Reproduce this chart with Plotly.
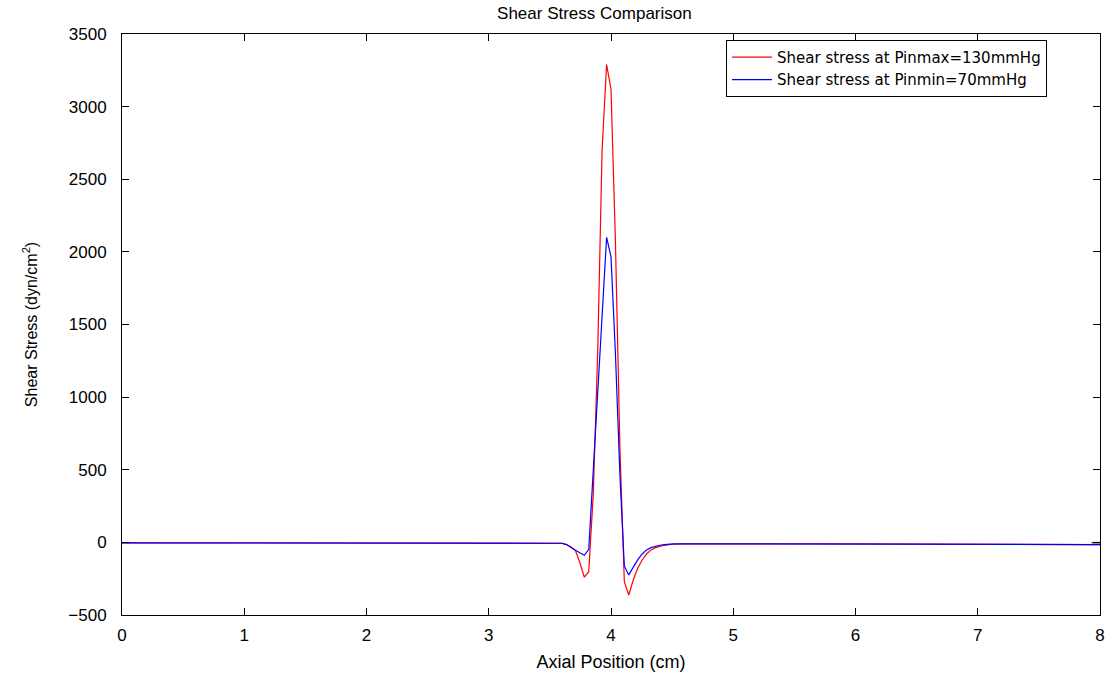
import plotly.graph_objects as go

# Axial positions (cm)
x_pos = [0, 1, 2, 3, 3.4, 3.5, 3.6, 3.636, 3.673, 3.709, 3.745, 3.782, 3.818,
         3.855, 3.891, 3.927, 3.964, 4.0, 4.036, 4.073, 4.109, 4.145, 4.182,
         4.218, 4.255, 4.291, 4.327, 4.364, 4.4, 4.436, 4.473, 4.509, 4.6,
         4.8, 5, 6, 7, 7.9, 8]

# Shear stress at Pinmax = 130 mmHg (dyn/cm^2)
shear_max = [-3, -3, -3, -3, -4, -5, -7, -15, -32, -57, -139, -240, -202,
             330, 1300, 2700, 3290, 3120, 2080, 650, -270, -362, -259,
             -178, -121, -80, -52, -36, -27, -20, -16, -13, -11,
             -10, -10, -11, -13, -15, -16]

# Shear stress at Pinmin = 70 mmHg (dyn/cm^2)
shear_min = [-3, -3, -3, -3, -4, -5, -6, -15, -32, -54, -72, -89, -48,
             500, 1050, 1500, 2100, 1967, 1305, 464, -162, -224, -172,
             -121, -80, -52, -36, -27, -20, -16, -13, -11, -10,
             -10, -10, -11, -13, -15, -16]

# small grey segment at the right edge
grey_x = [7.93, 8.0]
grey_y = [-3, -3]

x_ticks = [0, 1, 2, 3, 4, 5, 6, 7, 8]
y_ticks = [-500, 0, 500, 1000, 1500, 2000, 2500, 3000, 3500]

FONT = "Liberation Sans, Arial, Helvetica, sans-serif"
LFONT = "DejaVu Sans, Liberation Sans, Arial, sans-serif"

fig = go.Figure()
fig.add_trace(go.Scatter(x=grey_x, y=grey_y, mode="lines",
                         line=dict(color="#808080", width=2),
                         showlegend=False, hoverinfo="skip"))
fig.add_trace(go.Scatter(x=x_pos, y=shear_max, mode="lines",
                         name="Shear stress at Pinmax=130mmHg",
                         line=dict(color="#ff0000", width=1.2)))
fig.add_trace(go.Scatter(x=x_pos, y=shear_min, mode="lines",
                         name="Shear stress at Pinmin=70mmHg",
                         line=dict(color="#0000ff", width=1.2)))

axis_common = dict(showline=True, linecolor="black", linewidth=1,
                   mirror="ticks", ticks="inside", ticklen=7,
                   tickcolor="black", tickwidth=1, showgrid=False,
                   zeroline=False, automargin=False,
                   tickfont=dict(family=FONT, size=17, color="black"))

fig.update_xaxes(range=[0, 8], tickvals=x_ticks,
                 ticktext=[str(v) for v in x_ticks],
                 title=dict(text="Axial Position (cm)", standoff=10,
                            font=dict(family=FONT, size=18, color="black")),
                 ticklabelstandoff=5,
                 **axis_common)
fig.update_yaxes(range=[-500, 3500], tickvals=y_ticks,
                 ticktext=[("\u2212" + str(-v)) if v < 0 else str(v) for v in y_ticks],
                 title=dict(text="Shear Stress (dyn/cm<sup>2</sup>)", standoff=26,
                            font=dict(family=FONT, size=16, color="black")),
                 ticklabelstandoff=11,
                 **axis_common)

fig.update_layout(
    width=1111, height=677,
    margin=dict(l=122, r=11, t=34, b=62, autoexpand=False),
    paper_bgcolor="white", plot_bgcolor="white",
    title=dict(text="Shear Stress Comparison", x=0.535, xanchor="center",
               y=0.99, yanchor="top",
               font=dict(family=FONT, size=17, color="black")),
    legend=dict(x=0.9458, xanchor="right", y=0.99, yanchor="top",
                bordercolor="black", borderwidth=1, bgcolor="white",
                font=dict(family=LFONT, size=15, color="black"),
                tracegroupgap=0, itemwidth=40),
    showlegend=True,
)

fig.write_html("out.html")
